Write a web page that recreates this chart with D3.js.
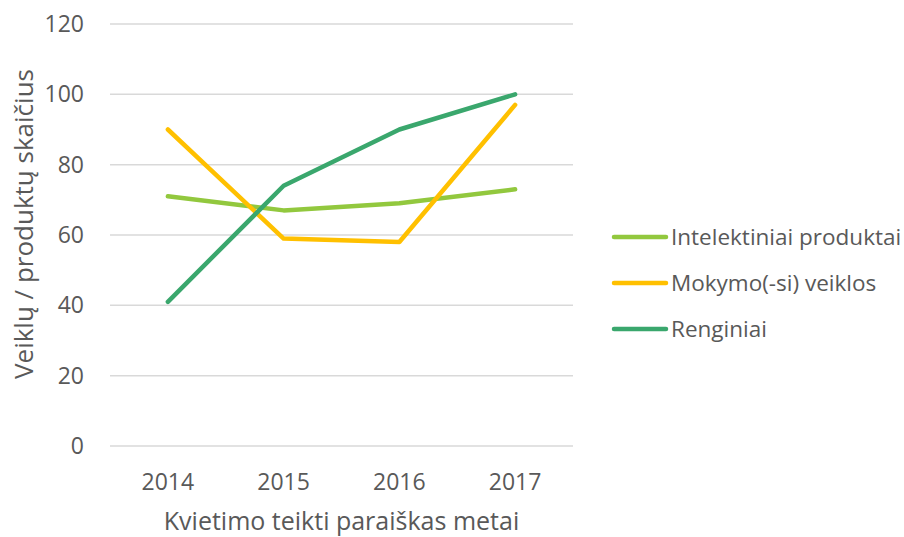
<!DOCTYPE html>
<html>
<head>
<meta charset="utf-8">
<script src="https://cdn.jsdelivr.net/npm/d3@7"></script>
<style>
  body { margin: 0; background: #fff; }
  text { font-family: "Open Sans", "Noto Sans", sans-serif; fill: #595959; }
</style>
</head>
<body>
<div id="chart"></div>
<script>
// Data
var years = ["2014", "2015", "2016", "2017"];
var intelektiniai = [71, 67, 69, 73];
var mokymo = [90, 59, 58, 97];
var renginiai = [41, 74, 90, 100];
var yTicks = [0, 20, 40, 60, 80, 100, 120];

var series = [
  {name: "Intelektiniai produktai", values: intelektiniai, color: "#92c83e"},
  {name: "Mokymo(-si) veiklos", values: mokymo, color: "#ffc000"},
  {name: "Renginiai", values: renginiai, color: "#3aa76d"}
];

var width = 904, height = 537;
var margin = {top: 24, left: 110, right: 331, bottom: 91};

var svg = d3.select("#chart").append("svg")
    .attr("width", width)
    .attr("height", height);

var x = d3.scaleBand()
    .domain(years)
    .range([margin.left, width - margin.right]);

var y = d3.scaleLinear()
    .domain([0, 120])
    .range([height - margin.bottom, margin.top]);

// Gridlines
svg.append("g")
    .selectAll("line")
    .data(yTicks)
    .enter()
    .append("line")
    .attr("x1", margin.left)
    .attr("x2", width - margin.right)
    .attr("y1", function(d) { return y(d); })
    .attr("y2", function(d) { return y(d); })
    .attr("stroke", "#d9d9d9")
    .attr("stroke-width", 1.5);

// Y tick labels
svg.append("g")
    .selectAll("text")
    .data(yTicks)
    .enter()
    .append("text")
    .attr("x", 84)
    .attr("y", function(d) { return y(d); })
    .attr("dy", "0.35em")
    .attr("text-anchor", "end")
    .style("font-size", "23px")
    .text(function(d) { return d; });

// X tick labels
svg.append("g")
    .selectAll("text")
    .data(years)
    .enter()
    .append("text")
    .attr("x", function(d) { return x(d) + x.bandwidth() / 2; })
    .attr("y", 490)
    .attr("text-anchor", "middle")
    .style("font-size", "23px")
    .text(function(d) { return d; });

// Axis titles
svg.append("text")
    .attr("x", x.range()[0] + (x.range()[1] - x.range()[0]) / 2)
    .attr("y", 530)
    .attr("text-anchor", "middle")
    .style("font-size", "25px")
    .text("Kvietimo teikti paraiškas metai");

svg.append("text")
    .attr("transform", "translate(33,224) rotate(-90)")
    .attr("text-anchor", "middle")
    .style("font-size", "26px")
    .text("Veiklų / produktų skaičius");

// Lines
var line = d3.line()
    .x(function(d, i) { return x(years[i]) + x.bandwidth() / 2; })
    .y(function(d) { return y(d); });

svg.append("g")
    .selectAll("path")
    .data(series)
    .enter()
    .append("path")
    .attr("d", function(d) { return line(d.values); })
    .attr("fill", "none")
    .attr("stroke", function(d) { return d.color; })
    .attr("stroke-width", 4.5)
    .attr("stroke-linejoin", "round")
    .attr("stroke-linecap", "round");

// Legend
var legend = svg.append("g")
    .selectAll("g")
    .data(series)
    .enter()
    .append("g")
    .attr("transform", function(d, i) { return "translate(614," + (237 + i * 46) + ")"; });

legend.append("line")
    .attr("x1", 0)
    .attr("x2", 52)
    .attr("stroke", function(d) { return d.color; })
    .attr("stroke-width", 4.5)
    .attr("stroke-linecap", "round");

legend.append("text")
    .attr("x", 57)
    .attr("dy", "0.35em")
    .style("font-size", "22.5px")
    .text(function(d) { return d.name; });
</script>
</body>
</html>
